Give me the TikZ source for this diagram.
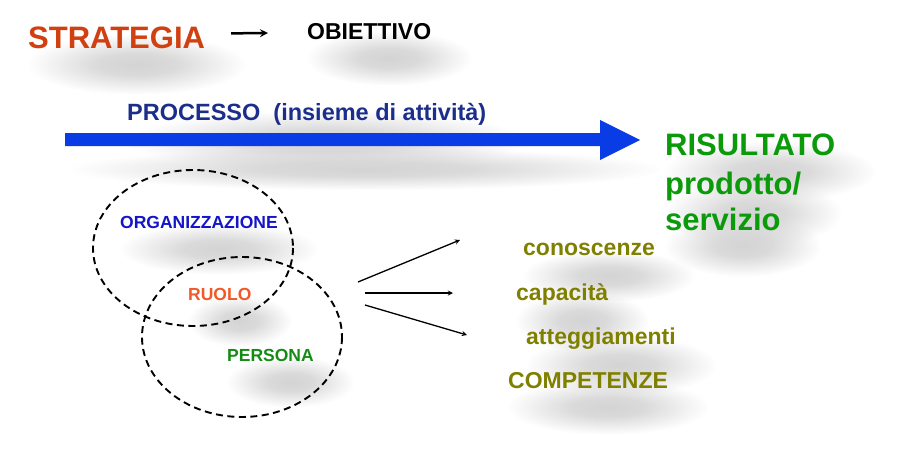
\documentclass[tikz,border=0pt]{standalone}
\usepackage{fontspec}
\setmainfont{Liberation Sans}
\usetikzlibrary{fadings}
\definecolor{strat}{RGB}{208,64,16}
\definecolor{proc}{RGB}{28,46,140}
\definecolor{arrblue}{RGB}{10,60,230}
\definecolor{ris}{RGB}{10,154,10}
\definecolor{org}{RGB}{20,20,200}
\definecolor{ruolo}{RGB}{240,90,40}
\definecolor{pers}{RGB}{20,140,20}
\definecolor{olive}{RGB}{128,128,0}
\pgfdeclarelayer{bg}
\pgfsetlayers{bg,main}
% soft grey smudge under every text
\pgfdeclareradialshading{smudgeshade}{\pgfpointorigin}{color(0bp)=(white); color(9bp)=(black!15); color(25bp)=(black); color(50bp)=(black)}
\pgfdeclarefading{smudge}{\pgfuseshading{smudgeshade}}
\tikzset{
	bigtxt/.style={inner sep=0pt, anchor=base west, font=\bfseries\fontsize{31}{36}\selectfont},
	midtxt/.style={inner sep=0pt, anchor=base west, font=\bfseries\fontsize{23}{28}\selectfont},
	smalltxt/.style={inner sep=0pt, anchor=base west, font=\bfseries\fontsize{17.5}{21}\selectfont},
	ring/.style={line width=1.9pt, dash pattern=on 7pt off 4.5pt},
	pointer/.style={->, line width=1.3pt},
	shade/.style={fill=black!17, path fading=smudge}
}
\begin{document}
\begin{tikzpicture}[x=1pt, y=-1pt, >=stealth]
\begin{pgfonlayer}{bg}
\fill[white] (0,0) rectangle (916,474);
\end{pgfonlayer}
\useasboundingbox (0,0) rectangle (916,474);
% strategia -> obiettivo
\node[bigtxt, text=strat] (strat) at (28,48) {STRATEGIA};
\node[midtxt] (obj) at (307,39) {OBIETTIVO};
\draw[->, line width=2.5pt] ([xshift=26pt, yshift=4pt]strat.east) -- ([xshift=-39pt, yshift=-2pt]obj.west);

% processo
\node[midtxt, text=proc, font=\bfseries\fontsize{23.5}{28}\selectfont] (proc) at (127,120) {PROCESSO\ \ (insieme di attività)};
\fill[arrblue] (65,133) -- (600,133) -- (600,120) -- (640,140) -- (600,160) -- (600,146) -- (65,146) -- cycle;
\node[bigtxt, text=ris] (ris) at (665,155) {RISULTATO};
\node[bigtxt, text=ris] (prod) at (665,194) {prodotto/};
\node[bigtxt, text=ris] (serv) at (665,230) {servizio};

% ruolo
\draw[ring] (193,248) ellipse [x radius=100, y radius=78];
\draw[ring] (242,337) ellipse [x radius=100, y radius=80];
\node[smalltxt, text=org] (org) at (120,228) {ORGANIZZAZIONE};
\node[smalltxt, text=ruolo] (ruolo) at (188,300) {RUOLO};
\node[smalltxt, text=pers] (pers) at (227,361) {PERSONA};

% competenze
\node[midtxt, text=olive] (con) at (523,255) {conoscenze};
\node[midtxt, text=olive] (cap) at (516,300) {capacità};
\node[midtxt, text=olive] (att) at (526,344) {atteggiamenti};
\node[midtxt, text=olive] (comp) at (508,388) {COMPETENZE};
\coordinate (from1) at (358,282); \coordinate (to1) at (460,240);
\coordinate (from2) at (365,293); \coordinate (to2) at (453,293);
\coordinate (from3) at (365,305); \coordinate (to3) at (467,335);
\foreach \i in {1,2,3}
	\draw[pointer] (from\i) -- (to\i);

% shadows
\begin{pgfonlayer}{bg}
\foreach \n in {strat,obj,proc,ris,prod,serv,org,ruolo,pers,con,cap,att,comp}
	\fill[shade] ([shift={(0pt,-46pt)}]\n.south west) rectangle ([shift={(40pt,-8pt)}]\n.north east);
\fill[shade] (70,148) rectangle (660,190);
\end{pgfonlayer}

\end{tikzpicture}
\end{document}
